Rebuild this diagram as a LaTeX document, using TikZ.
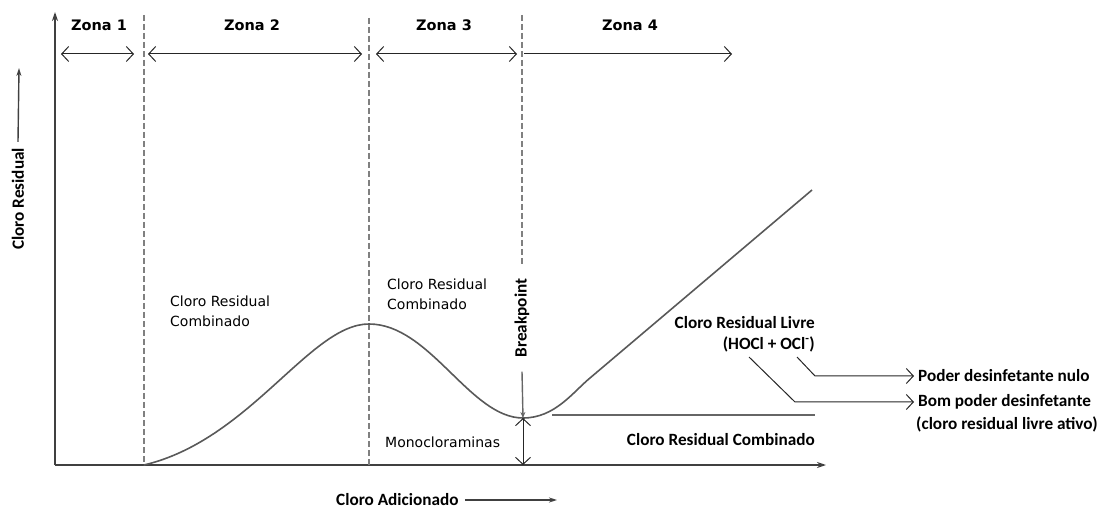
\documentclass[tikz,border=0pt]{standalone}
\usepackage{fontspec}
\setmainfont{Carlito}
\newfontfamily\zonafont{DejaVu Sans}
\usetikzlibrary{arrows.meta}

\tikzset{
  eixo/.style={draw=black!75, line width=1.6pt},
  divisa/.style={draw=black!50, line width=1.2pt, dash pattern=on 6pt off 3pt},
  faixa/.style={draw=black!85, line width=1pt},
  barb/.tip={Straight Barb[length=7pt,width=15pt]},
  zona/.style={font=\zonafont\bfseries\fontsize{14.5}{16}\selectfont},
  rotulo/.style={font=\bfseries\fontsize{17.2}{19}\selectfont, inner sep=0pt},
  fino/.style={font=\zonafont\fontsize{14}{20}\selectfont, align=left, inner sep=0pt},
  curva/.style={draw=black!65, line width=1.6pt},
}

\begin{document}
\begin{tikzpicture}[x=1pt,y=-1pt]
  \useasboundingbox (0,0) rectangle (1103,510);

  % axes
  \draw[eixo,-{Stealth[length=9pt,width=6pt]}] (55,465) -- (55,12);
  \draw[eixo,-{Stealth[length=9pt,width=6pt]}] (55,465) -- (826,465);

  % zone limits
  \foreach \x/\t in {144/15, 369/18} {
    \draw[divisa] (\x,\t) -- (\x,465);
  }
  \draw[divisa] (522,15) -- (522,265);

  % zone arrows and names
  \foreach \a/\b in {61/134, 148/362, 376/517} {
    \draw[faixa,barb-barb] (\a,54) -- (\b,54);
  }
  \draw[faixa,-barb] (524,54) -- (732,54);
  \foreach \x/\n in {99/1, 252/2, 444/3, 630/4} {
    \node[zona] (zona\n) at (\x,25) {Zona \n};
  }

  % chlorine curve
  \coordinate (minimo) at (523,418);
  \coordinate (base) at (523,465);
  \draw[curva] (144,465) .. controls (250,440) and (310,324) .. (369,324)
    .. controls (430,324) and (470,418) .. (minimo)
    .. controls (555,418) and (573,392) .. (590,378) -- (812,190);
  \draw[draw=black!60, line width=1.2pt] (552,415) -- (815,415);

  % breakpoint
  \node[rotulo, rotate=90] (breakpoint) at (522,318) {Breakpoint};
  \draw[draw=black!60, line width=1.4pt, -{Stealth[length=6pt,width=5pt]}]
    ([yshift=-14pt]breakpoint.west) -- (minimo);
  \draw[faixa,barb-barb] (minimo) -- (base);

  % curve labels
  \node[fino, anchor=north west] (comb2) at (170,296) {Cloro Residual\\Combinado};
  \node[fino, anchor=north west] (comb3) at (387,279) {Cloro Residual\\Combinado};
  \node[fino, anchor=west] (mono) at (385,442) {Monocloraminas};
  \node[rotulo, anchor=east] (combinado) at (815,440) {Cloro Residual Combinado};
  \node[rotulo, anchor=east] (livre) at (815,323) {Cloro Residual Livre};
  \node[rotulo, anchor=east] (especies) at (815,344) {(HOCl + OCl\textsuperscript{-})};

  % disinfecting power
  \coordinate (hocl) at (749,357);
  \coordinate (ocl) at (797,357);
  \node[rotulo, anchor=west] (nulo) at (918,376) {Poder desinfetante nulo};
  \node[rotulo, anchor=west] (bom) at (918,402) {Bom poder desinfetante};
  \node[rotulo, anchor=west] (ativo) at (916,424) {(cloro residual livre ativo)};
  \draw[faixa,-barb,shorten >=4pt] (ocl) -- (815,376) -- (nulo.west);
  \draw[faixa,-barb,shorten >=4pt] (hocl) -- (795,402) -- (bom.west);

  % axis names
  \node[rotulo, rotate=90] (eixoy) at (18,199) {Cloro Residual};
  \draw[draw=black!75, line width=1.4pt, -{Stealth[length=8pt,width=5pt]}]
    ([yshift=6pt]eixoy.east) -- (19,68);
  \node[rotulo, anchor=west] (eixox) at (336,500) {Cloro Adicionado};
  \draw[draw=black!75, line width=1.4pt, -{Stealth[length=8pt,width=5pt]}]
    ([xshift=6pt]eixox.east) -- (557,500);
\end{tikzpicture}
\end{document}
